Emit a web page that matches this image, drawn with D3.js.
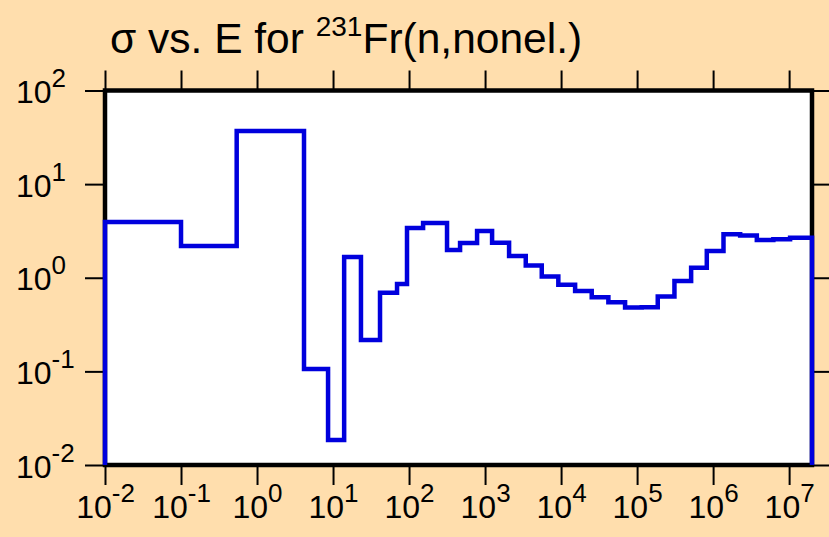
<!DOCTYPE html>
<html>
<head>
<meta charset="utf-8">
<script src="https://cdn.jsdelivr.net/npm/d3@7"></script>
<style>
  html, body { margin: 0; padding: 0; background: #FFDEAD; }
  svg { display: block; }
  text { font-family: "Liberation Sans", Arial, sans-serif; fill: #000; }
</style>
</head>
<body>
<svg id="chart" width="829" height="537"></svg>
<script>
// Energy bin edges (eV) and cross sections (b) of the step histogram
const binEdges = [1e-2, 0.1, 0.54, 4.15, 8.6, 14, 23.3, 41.5, 69.5, 94, 153, 316, 469, 785,
  1237, 2070, 3430, 5570, 9200, 15300, 25300, 41900, 69500, 115000, 187000, 310000,
  514000, 826000, 1.37e6, 2.27e6, 3.76e6, 6.2e6, 1.03e7, 2e7];
const sigmaValues = [3.95, 2.19, 37, 0.106, 0.0185, 1.67, 0.216, 0.69, 0.86, 3.4, 3.85,
  1.98, 2.35, 3.16, 2.37, 1.71, 1.35, 1.03, 0.84, 0.72, 0.62, 0.547, 0.48, 0.485, 0.63,
  0.925, 1.28, 1.93, 2.92, 2.82, 2.53, 2.58, 2.68];
const xTickExponents = [-2, -1, 0, 1, 2, 3, 4, 5, 6, 7];
const yTickExponents = [-2, -1, 0, 1, 2];
const xDomain = [1e-2, 2e7];
const yDomain = [1e-2, 1e2];
const titleMain = "σ vs. E for ";
const titleSup = "231";
const titleRest = "Fr(n,nonel.)";

const svg = d3.select("#chart");
const L = 105, R = 812, T = 90.5, B = 465;

const x = d3.scaleLog().domain(xDomain).range([L, R]);
const y = d3.scaleLog().domain(yDomain).range([B, T]);

// white plot area
svg.append("rect").attr("x", L).attr("y", T).attr("width", R - L).attr("height", B - T)
  .attr("fill", "#fff");

function supLabel(sel, supFs, dy) {
  sel.each(function(d) {
    const t = d3.select(this);
    const e = Math.round(Math.log10(d));
    t.text(null);
    t.append("tspan").text("10");
    t.append("tspan").attr("font-size", supFs).attr("dy", -dy).text(String(e));
  });
}

const xTicks = xTickExponents.map(e => Math.pow(10, e));
const yTicks = yTickExponents.map(e => Math.pow(10, e));

// bottom axis
const gb = svg.append("g").attr("transform", `translate(0,${B})`)
  .call(d3.axisBottom(x).tickValues(xTicks).tickSize(20).tickSizeOuter(0).tickPadding(4));
gb.select(".domain").remove();
gb.selectAll(".tick line").attr("stroke", "#000").attr("stroke-width", 2);
gb.selectAll(".tick text").attr("font-size", 32).attr("dy", 29)
  .attr("fill", "#000").call(supLabel, 26, 16);

// top axis
const gt = svg.append("g").attr("transform", `translate(0,${T})`)
  .call(d3.axisTop(x).tickValues(xTicks).tickSize(20).tickSizeOuter(0).tickFormat(""));
gt.select(".domain").remove();
gt.selectAll(".tick line").attr("stroke", "#000").attr("stroke-width", 2);

// left axis
const gl = svg.append("g").attr("transform", `translate(${L},0)`)
  .call(d3.axisLeft(y).tickValues(yTicks).tickSize(20).tickSizeOuter(0));
gl.select(".domain").remove();
gl.selectAll(".tick line").attr("stroke", "#000").attr("stroke-width", 2);
gl.selectAll(".tick text").attr("font-size", 32).attr("text-anchor", "start")
  .attr("x", 16 - L).attr("dy", 12).attr("fill", "#000").call(supLabel, 26, 16);

// right axis
const gr = svg.append("g").attr("transform", `translate(${R},0)`)
  .call(d3.axisRight(y).tickValues(yTicks).tickSize(20).tickSizeOuter(0).tickFormat(""));
gr.select(".domain").remove();
gr.selectAll(".tick line").attr("stroke", "#000").attr("stroke-width", 2);

// frame
svg.append("rect").attr("x", L).attr("y", T).attr("width", R - L).attr("height", B - T)
  .attr("fill", "none").attr("stroke", "#000").attr("stroke-width", 4.5);

// step line
const pts = [[binEdges[0], yDomain[0]]];
sigmaValues.forEach((v, i) => {
  pts.push([binEdges[i], v]);
  pts.push([binEdges[i + 1], v]);
});
pts.push([binEdges[binEdges.length - 1], yDomain[0]]);
svg.append("path")
  .attr("d", d3.line().x(d => x(d[0])).y(d => y(d[1]))(pts))
  .attr("fill", "none").attr("stroke", "#0000dd").attr("stroke-width", 4.5)
  .attr("stroke-linejoin", "miter").attr("stroke-linecap", "butt");

// title
const title = svg.append("text").attr("x", 110).attr("y", 53).attr("font-size", 42.5);
title.append("tspan").text(titleMain);
title.append("tspan").attr("font-size", 28).attr("dy", -17).text(titleSup);
title.append("tspan").attr("dy", 17).text(titleRest);
</script>
</body>
</html>
